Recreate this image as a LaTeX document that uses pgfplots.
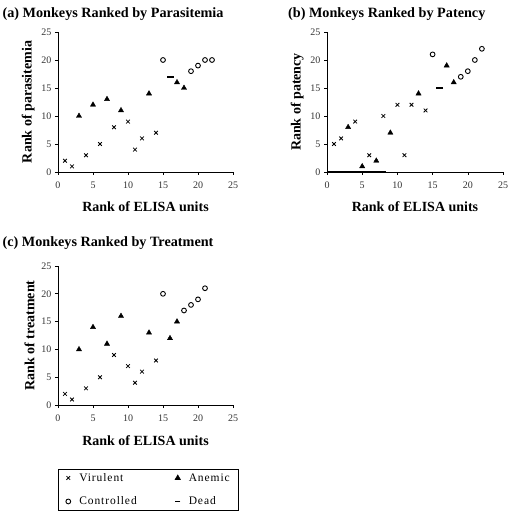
\documentclass[border=0pt]{standalone}
\usepackage{pgfplots}
\pgfplotsset{compat=1.18}
\usepackage{fontspec}
\setmainfont{Liberation Serif}
\pgfplotsset{
  panel/.style={
    scale only axis,
    anchor=south west,
    xmin=0, xmax=25, ymin=0, ymax=25,
    xtick={0,5,...,25}, ytick={0,5,...,25},
    axis lines=left,
    axis line style={-, line width=0.6pt},
    tick align=outside,
    major tick length=3pt,
    tick style={black, line width=0.6pt},
    clip=false,
    /pgf/number format/assume math mode=true,
    ticklabel style={font=\fontsize{10}{11}\selectfont, color=black!80},
    xticklabel style={yshift=-3pt},
    label style={font=\fontsize{14}{15}\selectfont\bfseries},
    title style={font=\fontsize{14.2}{15}\selectfont\bfseries, anchor=west, inner sep=0pt},
    xlabel={Rank of ELISA units},
    xlabel style={yshift=-7pt},
    ylabel style={yshift=0pt},
  },
  vir/.style={only marks, mark=x, mark size=2.6pt, black, mark options={line width=0.8pt}},
  ane/.style={only marks, mark=triangle*, mark size=3pt, black},
  con/.style={only marks, mark=o, mark size=2.4pt, black, mark options={line width=0.9pt}},
  ded/.style={only marks, mark=-, mark size=3.5pt, black, mark options={line width=1.8pt}},
}
\begin{document}
\begin{tikzpicture}
\path (0pt,0pt) rectangle (512pt,513pt);
% (a)
\begin{axis}[panel, at={(58pt,341pt)}, width=175pt, height=140pt,
  ylabel={Rank of parasitemia},
  title={(a) Monkeys Ranked by Parasitemia},
  title style={at={(-0.318,1.088)}}]
\addplot[vir] coordinates {(1,2)(2,1)(4,3)(6,5)(8,8)(10,9)(11,4)(12,6)(14,7)};
\addplot[ane] coordinates {(3,10)(5,12)(7,13)(9,11)(13,14)(17,16)(18,15)};
\addplot[con] coordinates {(15,20)(19,18)(20,19)(21,20)(22,20)};
\addplot[ded] coordinates {(16,17)};
\end{axis}
% (b)
\begin{axis}[panel, at={(327pt,341pt)}, width=176pt, height=140pt,
  ylabel={Rank of patency},
  title={(b) Monkeys Ranked by Patency},
  title style={at={(-0.222,1.088)}}]
\addplot[black, line width=1.8pt] coordinates {(0,0)(8.4,0)};
\addplot[vir] coordinates {(1,5)(2,6)(4,9)(6,3)(8,10)(10,12)(11,3)(12,12)(14,11)};
\addplot[ane] coordinates {(3,8)(5,1)(7,2)(9,7)(13,14)(17,19)(18,16)};
\addplot[con] coordinates {(15,21)(19,17)(20,18)(21,20)(22,22)};
\addplot[ded] coordinates {(16,15)};
\end{axis}
% (c)
\begin{axis}[panel, at={(58pt,108pt)}, width=175pt, height=139pt,
  ylabel={Rank of treatment},
  title={(c) Monkeys Ranked by Treatment},
  title style={at={(-0.318,1.122)}},
  legend columns=2,
  legend cell align=left,
  legend style={at={(0,-0.46)}, anchor=north west, draw=black, line width=0.6pt,
    font=\fontsize{11.5}{12}\selectfont\addfontfeature{LetterSpace=8},
    inner xsep=4pt, inner ysep=0.5pt,
    row sep=7pt,
    nodes={inner xsep=5pt, inner ysep=3.5pt, align=left},
    column 2/.style={nodes={text width=62pt}},
    column 4/.style={nodes={text width=52pt}},
    /tikz/every even column/.append style={column sep=30pt}},
  legend image code/.code={\path[draw=none,fill=none] (0pt,-3pt) rectangle (12pt,3pt); \draw[#1] plot coordinates {(6pt,0pt)};},
]
\addplot[vir] coordinates {(1,2)(2,1)(4,3)(6,5)(8,9)(10,7)(11,4)(12,6)(14,8)};
\addlegendentry{Virulent}
\addplot[ane] coordinates {(3,10)(5,14)(7,11)(9,16)(13,13)(16,12)(17,15)};
\addlegendentry{Anemic}
\addplot[con] coordinates {(15,20)(18,17)(19,18)(20,19)(21,21)};
\addlegendentry{Controlled}
\addlegendimage{ded, mark size=2.5pt}
\addlegendentry{Dead}
\end{axis}
\end{tikzpicture}
\end{document}
